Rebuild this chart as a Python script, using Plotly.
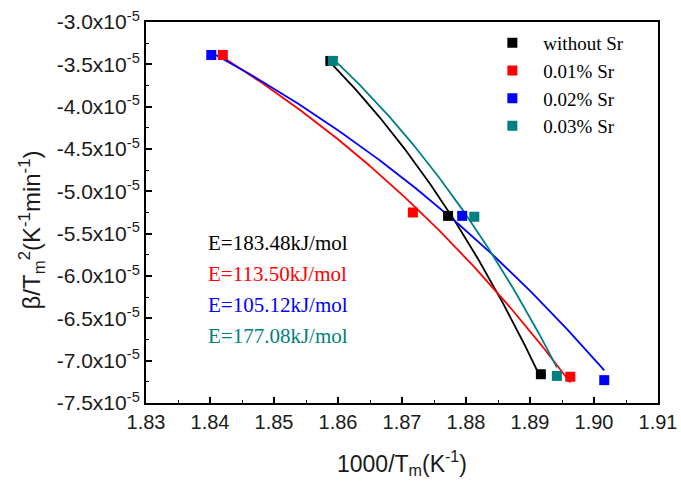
import numpy as np
import plotly.graph_objects as go

# 1000/Tm (K^-1) and beta/Tm^2 (K^-1 min^-1) for each alloy
series_names = ["without Sr", "0.01% Sr", "0.02% Sr", "0.03% Sr"]
series_colors = ["#000000", "#FF0000", "#0000FF", "#008080"]

x_without = [1.8588, 1.8772, 1.8917]
y_without = [-3.46e-5, -5.29e-5, -7.16e-5]

x_001 = [1.8420, 1.8717, 1.8963]
y_001 = [-3.39e-5, -5.25e-5, -7.19e-5]

x_002 = [1.8402, 1.8794, 1.9016]
y_002 = [-3.39e-5, -5.29e-5, -7.23e-5]

x_003 = [1.8592, 1.8813, 1.8942]
y_003 = [-3.46e-5, -5.30e-5, -7.18e-5]

energy_labels = ["E=183.48kJ/mol", "E=113.50kJ/mol", "E=105.12kJ/mol", "E=177.08kJ/mol"]

x_ticks = [1.83, 1.84, 1.85, 1.86, 1.87, 1.88, 1.89, 1.90, 1.91]
y_ticks = [-3.0e-5, -3.5e-5, -4.0e-5, -4.5e-5, -5.0e-5, -5.5e-5, -6.0e-5, -6.5e-5, -7.0e-5, -7.5e-5]

xs = [x_without, x_001, x_002, x_003]
ys = [y_without, y_001, y_002, y_003]

fig = go.Figure()

# Kissinger-type fit: ln|beta/Tm^2| linear in 1000/Tm
for name, color, x, y in zip(series_names, series_colors, xs, ys):
    slope, intercept = np.polyfit(x, np.log(-np.asarray(y)), 1)
    xf = np.linspace(min(x), max(x), 120)
    fig.add_trace(go.Scatter(
        x=xf, y=-np.exp(intercept + slope * xf), mode="lines",
        line=dict(color=color, width=1.8),
        showlegend=False, hoverinfo="skip"))

# measured points
for name, color, x, y in zip(series_names, series_colors, xs, ys):
    fig.add_trace(go.Scatter(
        x=x, y=y, mode="markers", name=name,
        marker=dict(symbol="square", size=10, color=color)))

# activation energy labels
for i, (txt, color) in enumerate(zip(energy_labels, series_colors)):
    fig.add_annotation(
        x=0.118, y=0.42 - i * 0.0814, xref="paper", yref="paper",
        xanchor="left", yanchor="middle", showarrow=False,
        text=txt, font=dict(family="Liberation Serif", size=21, color=color))

# axis titles placed as free labels
fig.add_annotation(
    x=-0.223, y=0.455, xref="paper", yref="paper",
    xanchor="center", yanchor="middle", showarrow=False, textangle=-90,
    text="β/T<sub>m</sub><sup>2</sup>(K<sup>-1</sup>min<sup>-1</sup>)",
    font=dict(family="Liberation Sans", size=24, color="#1a1a1a"))
fig.add_annotation(
    x=0.5, y=-0.158, xref="paper", yref="paper",
    xanchor="center", yanchor="middle", showarrow=False,
    text="1000/T<sub>m</sub>(K<sup>-1</sup>)",
    font=dict(family="Liberation Sans", size=23, color="#1a1a1a"))

y_ticktext = ["%.1fx10<sup>-5</sup>" % (v * 1e5) for v in y_ticks]
x_ticktext = ["%.2f" % v for v in x_ticks]

fig.update_layout(
    width=681, height=481,
    margin=dict(l=146, r=23, t=22, b=78),
    paper_bgcolor="white", plot_bgcolor="white",
    font=dict(family="Liberation Sans", size=18, color="#1a1a1a"),
    legend=dict(
        x=0.655, y=0.995, xanchor="left", yanchor="top",
        bgcolor="rgba(0,0,0,0)",
        font=dict(family="Liberation Serif", size=19, color="#000000"),
        itemwidth=52, tracegroupgap=0),
    xaxis=dict(
        range=[1.83, 1.91], tickvals=x_ticks, ticktext=x_ticktext,
        ticks="inside", ticklen=6, tickwidth=1.5, tickcolor="black",
        minor=dict(ticks="inside", ticklen=3, tickwidth=1.2, tickcolor="black", dtick=0.005),
        showline=True, linecolor="black", linewidth=2, mirror=True,
        showgrid=False, zeroline=False, automargin=False,
        tickfont=dict(size=20)),
    yaxis=dict(
        range=[-7.5e-5, -3.0e-5], tickvals=y_ticks, ticktext=y_ticktext,
        ticks="inside", ticklen=6, tickwidth=1.5, tickcolor="black",
        minor=dict(ticks="inside", ticklen=3, tickwidth=1.2, tickcolor="black",
                   tickvals=[v - 0.25e-5 for v in y_ticks[:-1]]),
        showline=True, linecolor="black", linewidth=2, mirror=True,
        showgrid=False, zeroline=False, automargin=False,
        tickfont=dict(size=21)),
)

fig.write_html("out.html")
